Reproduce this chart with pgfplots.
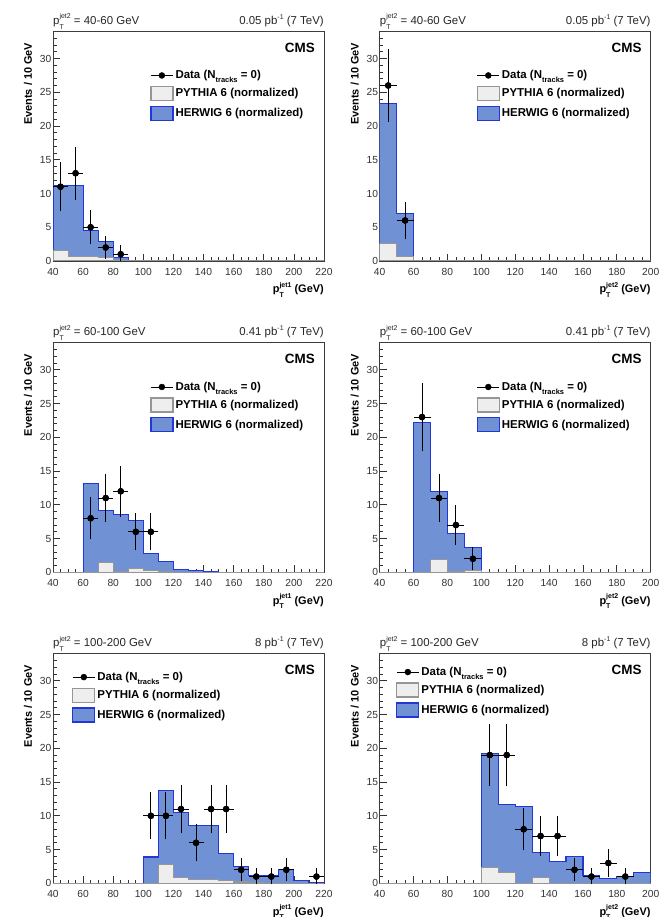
\documentclass[border=0pt]{standalone}
\usepackage{fontspec}
\setmainfont{Liberation Sans}
\usepackage{pgfplots}
\pgfplotsset{compat=1.18}

\definecolor{herwigfill}{RGB}{112,146,212}
\definecolor{herwigedge}{RGB}{35,55,215}
\definecolor{pythiafill}{RGB}{238,238,238}
\definecolor{pythiaedge}{RGB}{150,150,150}
\definecolor{framecol}{RGB}{60,60,60}

% font sizes
\newcommand{\tickfont}{\fontsize{10.3}{12}\selectfont}
\newcommand{\topfont}{\fontsize{11.5}{13}\selectfont}
\newcommand{\legfont}{\bfseries\fontsize{11.5}{13}\selectfont}
\newcommand{\labfont}{\bfseries\fontsize{11}{13}\selectfont}
\newcommand{\cmsfont}{\bfseries\fontsize{13.5}{15}\selectfont}
\newcommand{\smallfont}{\fontsize{7}{8}\selectfont}

% p_T with a superscript label
\newcommand{\ptsym}[1]{p\raisebox{-0.75ex}{\rlap{\smallfont T}}\raisebox{0.95ex}{\smallfont #1}}
\newcommand{\invpb}[1]{#1 pb\raisebox{0.9ex}{\smallfont -1} (7 TeV)}

\pgfplotsset{
  cmspanel/.style={
    scale only axis, width=271bp, height=229.5bp,
    xmin=40, ymin=0, ymax=34,
    xtick distance=20, ytick distance=5,
    minor x tick num=3, minor y tick num=4,
    tick align=inside, xtick pos=lower, ytick pos=left,
    major tick length=7bp, minor tick length=3.5bp,
    axis line style={framecol, line width=0.8bp},
    tick style={black!80, line width=0.7bp},
    tick label style={font=\tickfont, text=black!80},
    /pgf/number format/assume math mode=true,
    xticklabel style={inner sep=2bp, yshift=-5bp},
    yticklabel style={inner sep=1.5bp},
    legend style={draw=none, fill=none, inner sep=0pt, anchor=north west,
      row sep=4.5bp, font=\legfont, cells={anchor=west},
      nodes={inner xsep=2bp, inner ysep=1bp}},
  },
  herwig hist/.style={const plot mark left, fill=herwigfill, draw=herwigedge, line width=1.1bp, forget plot},
  pythia hist/.style={const plot mark left, fill=pythiafill, draw=pythiaedge, line width=1.1bp, forget plot},
  data xerr/.style={only marks, mark=*, mark size=3bp, black, forget plot,
    error bars/.cd, x dir=both, x fixed=5, error mark=none,
    error bar style={line width=0.9bp, black}},
  data yerr/.style={only marks, mark=*, mark size=3bp, black, forget plot,
    error bars/.cd, y dir=both, y explicit,
    error bar style={line width=0.9bp, black},
    error mark options={mark size=2bp, line width=0.9bp, black}},
  data legend/.style={legend image code/.code={
    \draw[black, line width=0.9bp] (0bp,0bp) -- (22bp,0bp);
    \fill[black] (11bp,0bp) circle[radius=3bp];}},
  pythia legend/.style={legend image code/.code={
    \draw[fill=pythiafill, draw=pythiaedge, line width=1.3bp] (0bp,-7bp) rectangle (22bp,7bp);}},
  herwig legend/.style={legend image code/.code={
    \draw[fill=herwigfill, draw=herwigedge, line width=1.3bp] (0bp,-7bp) rectangle (22bp,7bp);}},
}

% labels around one panel: #1 jet2 range, #2 luminosity, #3 x variable
\newcommand{\paneltext}[3]{%
  \node[anchor=base west, font=\topfont, text=black!85, inner sep=0pt] at (0,1) [yshift=7bp] {\ptsym{jet2} = #1 GeV};
  \node[anchor=base east, font=\topfont, text=black!85, inner sep=0pt] at (1,1) [yshift=7bp] {\invpb{#2}};
  \node[anchor=east, font=\cmsfont, inner sep=0pt] at (1,1) [xshift=-9bp, yshift=-16.5bp] {CMS};
  \node[xshift=-25bp, yshift=-11bp, rotate=90, anchor=east, font=\labfont, inner sep=0pt] at (0,1) {Events / 10 GeV};
  \node[anchor=base east, font=\labfont, inner sep=0pt] at (1,0) [yshift=-32bp] {\ptsym{#3} (GeV)};
}

\newcommand{\legendentries}{%
  \addlegendimage{data legend}
  \addlegendentry{Data (N\raisebox{-0.6ex}{\fontsize{7.5}{8}\selectfont tracks} = 0)}
  \addlegendimage{pythia legend}
  \addlegendentry{PYTHIA 6 (normalized)}
  \addlegendimage{herwig legend}
  \addlegendentry{HERWIG 6 (normalized)}
}

\begin{document}
\begin{tikzpicture}
\useasboundingbox (0bp,0bp) rectangle (666bp,917bp);

% ---------- pT(jet2) = 40-60 GeV, leading jet ----------
\begin{axis}[cmspanel, xmax=220, at={(53bp,656bp)}, anchor=south west,
  legend style={at={(0.358,0.835)}},
  extra description/.code={\paneltext{40-60}{0.05}{jet1}}]
\legendentries
\addplot[herwig hist] coordinates {(40,11.25) (50,11.2) (60,4.55) (70,2.9) (80,0.5) (90,0) (220,0)} \closedcycle;
\addplot[pythia hist] coordinates {(40,1.6) (50,0.6) (60,0.6) (70,0.55) (80,0) (220,0)} \closedcycle;
\addplot[data xerr] coordinates {(45,11) (55,13) (65,5) (75,2) (85,1)};
\addplot[data yerr] coordinates {(45,11) +- (0,3.317) (55,13) +- (0,3.606) (65,5) +- (0,2.236) (75,2) +- (0,1.414) (85,1) +- (0,1)};
\end{axis}

% ---------- pT(jet2) = 40-60 GeV, second jet ----------
\begin{axis}[cmspanel, xmax=200, at={(379.7bp,656bp)}, anchor=south west,
  legend style={at={(0.357,0.835)}},
  extra description/.code={\paneltext{40-60}{0.05}{jet2}}]
\legendentries
\addplot[herwig hist] coordinates {(40,23.3) (50,7.1) (60,0) (200,0)} \closedcycle;
\addplot[pythia hist] coordinates {(40,2.6) (50,0.7) (60,0) (200,0)} \closedcycle;
\addplot[data xerr] coordinates {(45,26) (55,6)};
\addplot[data yerr] coordinates {(45,26) +- (0,5.099) (55,6) +- (0,2.449)};
\end{axis}

% ---------- pT(jet2) = 60-100 GeV, leading jet ----------
\begin{axis}[cmspanel, xmax=220, at={(53bp,344.7bp)}, anchor=south west,
  legend style={at={(0.358,0.834)}},
  extra description/.code={\paneltext{60-100}{0.41}{jet1}}]
\legendentries
\addplot[herwig hist] coordinates {(40,0) (60,13.2) (70,9.2) (80,8.5) (90,7.65) (100,2.8) (110,1.6) (120,0.35) (130,0.3) (140,0.15) (150,0) (220,0)} \closedcycle;
\addplot[pythia hist] coordinates {(40,0) (70,1.45) (80,0.1) (90,0.6) (100,0.2) (110,0.1) (120,0) (220,0)} \closedcycle;
\addplot[data xerr] coordinates {(65,8) (75,11) (85,12) (95,6) (105,6)};
\addplot[data yerr] coordinates {(65,8) +- (0,2.828) (75,11) +- (0,3.317) (85,12) +- (0,3.464) (95,6) +- (0,2.449) (105,6) +- (0,2.449)};
\end{axis}

% ---------- pT(jet2) = 60-100 GeV, second jet ----------
\begin{axis}[cmspanel, xmax=200, at={(379.7bp,344.7bp)}, anchor=south west,
  legend style={at={(0.357,0.834)}},
  extra description/.code={\paneltext{60-100}{0.41}{jet2}}]
\legendentries
\addplot[herwig hist] coordinates {(40,0) (60,22.25) (70,11.95) (80,5.8) (90,3.65) (100,0) (200,0)} \closedcycle;
\addplot[pythia hist] coordinates {(40,0) (70,1.9) (80,0.05) (90,0.3) (100,0) (200,0)} \closedcycle;
\addplot[data xerr] coordinates {(65,23) (75,11) (85,7) (95,2)};
\addplot[data yerr] coordinates {(65,23) +- (0,4.796) (75,11) +- (0,3.317) (85,7) +- (0,2.646) (95,2) +- (0,1.414)};
\end{axis}

% ---------- pT(jet2) = 100-200 GeV, leading jet ----------
\begin{axis}[cmspanel, xmax=220, at={(53bp,33.7bp)}, anchor=south west,
  legend style={at={(0.070,0.925)}},
  extra description/.code={\paneltext{100-200}{8}{jet1}}]
\legendentries
\addplot[herwig hist] coordinates {(40,0) (100,3.9) (110,13.7) (120,10.45) (130,8.6) (140,8.5) (150,4.35) (160,2.5) (170,1.1) (180,1.1) (190,2.1) (200,0.45) (210,0.05) (220,0)} \closedcycle;
\addplot[pythia hist] coordinates {(40,0) (110,2.8) (120,0.85) (130,0.5) (140,0.5) (150,0.45) (160,0.2) (170,0.1) (180,0) (220,0)} \closedcycle;
\addplot[data xerr] coordinates {(105,10) (115,10) (125,11) (135,6) (145,11) (155,11) (165,2) (175,1) (185,1) (195,2) (215,1)};
\addplot[data yerr] coordinates {(105,10) +- (0,3.162) (115,10) +- (0,3.162) (125,11) +- (0,3.317) (135,6) +- (0,2.449) (145,11) +- (0,3.317) (155,11) +- (0,3.317) (165,2) +- (0,1.414) (175,1) +- (0,1) (185,1) +- (0,1) (195,2) +- (0,1.414) (215,1) +- (0,1)};
\end{axis}

% ---------- pT(jet2) = 100-200 GeV, second jet ----------
\begin{axis}[cmspanel, xmax=200, at={(379.7bp,33.7bp)}, anchor=south west,
  legend style={at={(0.060,0.947)}},
  extra description/.code={\paneltext{100-200}{8}{jet2}}]
\legendentries
\addplot[herwig hist] coordinates {(40,0) (100,19.2) (110,11.7) (120,11.35) (130,4.5) (140,3.2) (150,3.95) (160,1.1) (170,0.7) (180,1.0) (190,1.6) (200,0)} \closedcycle;
\addplot[pythia hist] coordinates {(40,0) (100,2.3) (110,1.6) (120,0) (130,0.85) (140,0) (200,0)} \closedcycle;
\addplot[data xerr] coordinates {(105,19) (115,19) (125,8) (135,7) (145,7) (155,2) (165,1) (175,3) (185,1)};
\addplot[data yerr] coordinates {(105,19) +- (0,4.359) (115,19) +- (0,4.359) (125,8) +- (0,2.828) (135,7) +- (0,2.646) (145,7) +- (0,2.646) (155,2) +- (0,1.414) (165,1) +- (0,1) (175,3) +- (0,1.732) (185,1) +- (0,1)};
\end{axis}
\end{tikzpicture}
\end{document}
